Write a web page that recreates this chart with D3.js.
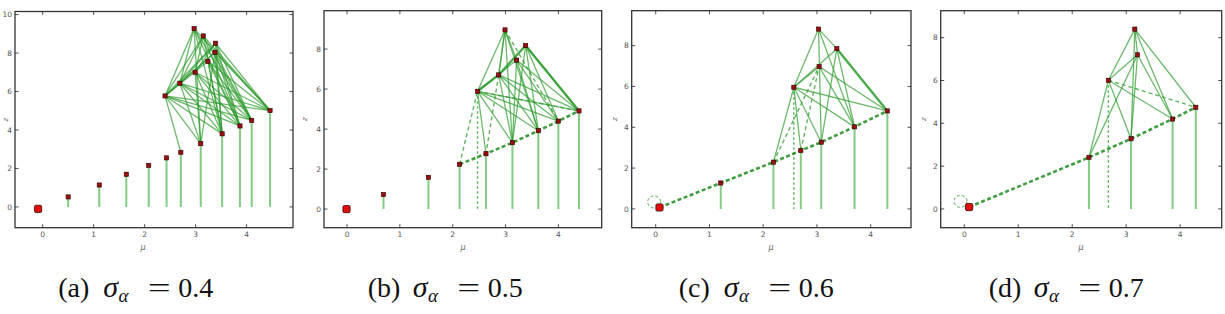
<!DOCTYPE html>
<html><head><meta charset="utf-8">
<script src="https://cdn.jsdelivr.net/npm/d3@7"></script>
<style>body{margin:0;background:#fff;} svg{display:block}</style>
</head><body><svg id="c" width="1225" height="314"></svg>
<script>
// ---------- data ----------
const xTicks = [0, 1, 2, 3, 4];
const yTicksA = [0, 2, 4, 6, 8, 10];
const yTicksBCD = [0, 2, 4, 6, 8];
const captionLetters = ["(a)", "(b)", "(c)", "(d)"];
const sigmaValues = ["0.4", "0.5", "0.6", "0.7"];
const xLabel = "\u03bc";
const yLabel = "z";

// panel (a): nodes [mu, z]
const nodesA = [[-0.09,-0.10],[0.50,0.52],[1.11,1.14],[1.64,1.70],[2.08,2.16],[2.43,2.55],[2.71,2.84],
  [3.10,3.29],[3.52,3.80],[3.87,4.21],[4.10,4.50],[4.46,5.01],
  [2.40,5.77],[2.69,6.43],[2.99,7.00],[2.97,9.27],[3.15,8.89],[3.39,8.51],[3.38,8.04],[3.24,7.57]];
const stemsA = [1,2,3,4,5,6,7,8,9,10,11];
const dottedStemsA = [];
const edgesA = [[12,6],[12,7],[12,8],[12,9],[12,10],[12,11],[12,13],[12,15],[12,16],[12,17],[12,18],[12,19],
  [13,7],[13,8],[13,9],[13,10],[13,11],[13,15],[13,16],[13,17],[13,18],
  [14,7],[14,8],[14,9],[14,10],[14,11],[14,16],[14,17],
  [15,7],[15,8],[15,9],[15,10],[15,11],[16,8],[16,9],[16,10],[16,11],
  [17,8],[17,9],[17,10],[17,11],[18,7],[18,8],[18,9],[18,10],[18,11],[19,8],[19,9],[19,10],[19,11]];
const strongEdgesA = [];
const dashedEdgesA = [];
const chainA = [];
const circleA = null;

// panel (b)
const nodesB = [[-0.01,0.00],[0.69,0.73],[1.54,1.59],[2.13,2.24],[2.63,2.77],[3.13,3.32],[3.62,3.92],[4.00,4.40],[4.39,4.91],
  [2.47,5.89],[2.87,6.71],[3.21,7.45],[3.38,8.18],[2.99,8.96]];
const stemsB = [1,2,3,4,5,6,7,8];
const dottedStemsB = [9];
const edgesB = [[9,11],[9,13],[9,4],[9,5],[9,6],[9,7],[9,8],
  [10,13],[10,5],[10,6],[10,7],[10,8],
  [11,5],[11,6],[11,7],[11,8],[11,13],
  [12,5],[12,6],[12,7],[12,8],[13,5],[13,6],[13,10]];
const strongEdgesB = [[9,10],[10,12],[12,8]];
const dashedEdgesB = [[3,9],[10,4],[13,7],[9,8]];
const chainB = [3,4,5,6,7,8];
const circleB = null;

// panel (c)
const nodesC = [[0.07,0.07],[1.21,1.27],[2.19,2.29],[2.70,2.86],[3.08,3.27],[3.70,4.02],[4.31,4.80],
  [2.57,5.96],[3.04,6.97],[3.37,7.85],[3.03,8.81]];
const stemsC = [1,2,3,4,5,6];
const dottedStemsC = [7];
const edgesC = [[7,10],[7,8],[7,9],[7,2],[7,3],[7,4],[7,5],[7,6],
  [10,9],[10,4],[10,5],[9,4],[9,5],[8,5],[8,6]];
const strongEdgesC = [[9,6]];
const dashedEdgesC = [[2,8],[3,8]];
const chainC = [0,1,2,3,4,5,6];
const circleC = [-0.03,0.34];

// panel (d)
const nodesD = [[0.09,0.09],[2.31,2.41],[3.09,3.28],[3.86,4.20],[4.29,4.75],[2.67,6.01],[3.21,7.20],[3.16,8.40]];
const stemsD = [1,2,3,4];
const dottedStemsD = [5];
const edgesD = [[5,7],[5,6],[5,1],[5,2],[5,3],[1,6],[7,2],[7,3],[7,4],[7,6],[6,2],[6,3]];
const strongEdgesD = [];
const dashedEdgesD = [[5,4]];
const chainD = [0,1,2,3,4];
const circleD = [-0.07,0.36];

const panelsData = [
  {nodes:nodesA, stems:stemsA, dotted:dottedStemsA, edges:edgesA, strong:strongEdgesA, dashed:dashedEdgesA, chain:chainA, circle:circleA, yTicks:yTicksA},
  {nodes:nodesB, stems:stemsB, dotted:dottedStemsB, edges:edgesB, strong:strongEdgesB, dashed:dashedEdgesB, chain:chainB, circle:circleB, yTicks:yTicksBCD},
  {nodes:nodesC, stems:stemsC, dotted:dottedStemsC, edges:edgesC, strong:strongEdgesC, dashed:dashedEdgesC, chain:chainC, circle:circleC, yTicks:yTicksBCD},
  {nodes:nodesD, stems:stemsD, dotted:dottedStemsD, edges:edgesD, strong:strongEdgesD, dashed:dashedEdgesD, chain:chainD, circle:circleD, yTicks:yTicksBCD}
];

// ---------- layout ----------
const layouts = [
  {left:15,    right:293,    top:11.5, bottom:227.7, xDom:[-0.543,4.91], yDom:[-1.08,10.16], capX:137.5, muX:143, zX:8},
  {left:324,   right:601.7,  top:10.7, bottom:227.7, xDom:[-0.436,4.82], yDom:[-0.93,9.92],  capX:447,   muX:463, zX:307},
  {left:631.7, right:911,    top:10.7, bottom:227.7, xDom:[-0.447,4.75], yDom:[-0.92,9.71],  capX:758,   muX:771, zX:617},
  {left:940.7, right:1221.7, top:10.7, bottom:227.7, xDom:[-0.437,4.77], yDom:[-0.875,9.26], capX:1068,  muX:1081, zX:926}
];
// caption piece offsets relative to caption start (px)
const capOffsets = {sigma:45, eqStart:88.4, eqWidth:25, num:120, half:79.2};

const svg = d3.select("#c");
const edgeColor = "#2e9b2e";
const stemColor = "#5cb85c";

panelsData.forEach((pd, k) => {
  const L = layouts[k];
  const x = d3.scaleLinear().domain(L.xDom).range([L.left, L.right]);
  const y = d3.scaleLinear().domain(L.yDom).range([L.bottom, L.top]);
  const g = svg.append("g");
  const clipId = "clip" + k;
  g.append("clipPath").attr("id", clipId).append("rect")
    .attr("x", L.left).attr("y", L.top).attr("width", L.right - L.left).attr("height", L.bottom - L.top);
  const plot = g.append("g").attr("clip-path", `url(#${clipId})`);
  const N = pd.nodes;

  // stems
  plot.selectAll(".stem").data(pd.stems).enter().append("line")
    .attr("x1", i => x(N[i][0])).attr("x2", i => x(N[i][0]))
    .attr("y1", i => y(N[i][1])).attr("y2", y(0))
    .attr("stroke", stemColor).attr("stroke-opacity", 0.75).attr("stroke-width", 2);
  plot.selectAll(".dstem").data(pd.dotted).enter().append("line")
    .attr("x1", i => x(N[i][0])).attr("x2", i => x(N[i][0]))
    .attr("y1", i => y(N[i][1])).attr("y2", y(0))
    .attr("stroke", edgeColor).attr("stroke-opacity", 0.8).attr("stroke-width", 1.4)
    .attr("stroke-dasharray", "2.5,2.5");

  // solid edges
  plot.selectAll(".edge").data(pd.edges).enter().append("line")
    .attr("x1", e => x(N[e[0]][0])).attr("y1", e => y(N[e[0]][1]))
    .attr("x2", e => x(N[e[1]][0])).attr("y2", e => y(N[e[1]][1]))
    .attr("stroke", edgeColor).attr("stroke-opacity", 0.7).attr("stroke-width", 1.3);
  plot.selectAll(".sedge").data(pd.strong).enter().append("line")
    .attr("x1", e => x(N[e[0]][0])).attr("y1", e => y(N[e[0]][1]))
    .attr("x2", e => x(N[e[1]][0])).attr("y2", e => y(N[e[1]][1]))
    .attr("stroke", edgeColor).attr("stroke-opacity", 0.85).attr("stroke-width", 2.4);
  plot.selectAll(".dedge").data(pd.dashed).enter().append("line")
    .attr("x1", e => x(N[e[0]][0])).attr("y1", e => y(N[e[0]][1]))
    .attr("x2", e => x(N[e[1]][0])).attr("y2", e => y(N[e[1]][1]))
    .attr("stroke", edgeColor).attr("stroke-opacity", 0.75).attr("stroke-width", 1.4)
    .attr("stroke-dasharray", "4,3");

  // chain
  if (pd.chain.length) {
    plot.append("path")
      .attr("d", d3.line().x(i => x(N[i][0])).y(i => y(N[i][1]))(pd.chain))
      .attr("fill", "none").attr("stroke", "#1f8c1f").attr("stroke-opacity", 0.85)
      .attr("stroke-width", 2.6).attr("stroke-dasharray", "4,2.5");
  }
  if (pd.circle) {
    plot.append("ellipse").attr("cx", x(pd.circle[0])).attr("cy", y(pd.circle[1]))
      .attr("rx", 6.5).attr("ry", 6).attr("fill", "none")
      .attr("stroke", edgeColor).attr("stroke-opacity", 0.6).attr("stroke-width", 1.2)
      .attr("stroke-dasharray", "3,2");
  }

  // markers
  plot.selectAll(".mk").data(N.slice(1)).enter().append("rect")
    .attr("x", d => x(d[0]) - 2.1).attr("y", d => y(d[1]) - 2.1)
    .attr("width", 4.2).attr("height", 4.2)
    .attr("fill", "#9a1010").attr("stroke", "#2a0000").attr("stroke-width", 0.6);
  plot.append("rect")
    .attr("x", x(N[0][0]) - 3.6).attr("y", y(N[0][1]) - 3.6)
    .attr("width", 7.2).attr("height", 7.2).attr("rx", 1.5)
    .attr("fill", "#e01010").attr("stroke", "#3a0000").attr("stroke-width", 0.8);

  // ticks inside on all four sides
  const tk = g.append("g").attr("stroke", "#222").attr("stroke-width", 0.8);
  xTicks.forEach(t => {
    tk.append("line").attr("x1", x(t)).attr("x2", x(t)).attr("y1", L.bottom).attr("y2", L.bottom - 3.5);
    tk.append("line").attr("x1", x(t)).attr("x2", x(t)).attr("y1", L.top).attr("y2", L.top + 3.5);
  });
  pd.yTicks.forEach(t => {
    tk.append("line").attr("y1", y(t)).attr("y2", y(t)).attr("x1", L.left).attr("x2", L.left + 3.5);
    tk.append("line").attr("y1", y(t)).attr("y2", y(t)).attr("x1", L.right).attr("x2", L.right - 3.5);
  });
  g.append("rect").attr("x", L.left).attr("y", L.top)
    .attr("width", L.right - L.left).attr("height", L.bottom - L.top)
    .attr("fill", "none").attr("stroke", "#333").attr("stroke-width", 1.3);

  // tick labels
  g.selectAll(".xt").data(xTicks).enter().append("text")
    .attr("x", t => x(t)).attr("y", L.bottom + 9)
    .attr("text-anchor", "middle").attr("font-family", "DejaVu Sans").attr("font-size", 7.5)
    .attr("fill", "#555").text(t => t);
  g.selectAll(".yt").data(pd.yTicks).enter().append("text")
    .attr("x", L.left - 3).attr("y", t => y(t) + 2.7)
    .attr("text-anchor", "end").attr("font-family", "DejaVu Sans").attr("font-size", 7.5)
    .attr("fill", "#555").text(t => t);

  // axis labels
  g.append("text").attr("x", L.muX).attr("y", L.bottom + 22)
    .attr("text-anchor", "middle").attr("font-family", "DejaVu Sans").attr("font-style", "italic")
    .attr("font-size", 8).attr("fill", "#666").text(xLabel);
  g.append("text").attr("transform", `translate(${L.zX},${(L.top + L.bottom) / 2}) rotate(-90)`)
    .attr("text-anchor", "middle").attr("font-family", "DejaVu Sans").attr("font-style", "italic")
    .attr("font-size", 7).attr("fill", "#666").text(yLabel);

  // caption
  const x0 = L.capX - capOffsets.half;
  const cg = svg.append("g").attr("font-family", "Liberation Serif").attr("fill", "#111");
  cg.append("text").attr("x", x0).attr("y", 297).attr("font-size", 28).text(captionLetters[k]);
  const sig = cg.append("text").attr("x", x0 + capOffsets.sigma).attr("y", 297).attr("font-size", 30)
    .attr("font-style", "italic").text("\u03c3");
  const sw = sig.node().getComputedTextLength();
  cg.append("text").attr("x", x0 + capOffsets.sigma + sw + 0.5).attr("y", 302).attr("font-size", 19)
    .attr("font-style", "italic").text("\u03b1");
  const eqc = x0 + capOffsets.eqStart + capOffsets.eqWidth / 2;
  cg.append("text").attr("x", eqc).attr("y", 297)
    .attr("font-size", 28).attr("text-anchor", "middle")
    .attr("transform", `translate(${eqc},0) scale(1.45,1) translate(${-eqc},0)`)
    .text("=");
  cg.append("text").attr("x", x0 + capOffsets.num).attr("y", 297).attr("font-size", 28).text(sigmaValues[k]);
});
</script>
</body></html>
